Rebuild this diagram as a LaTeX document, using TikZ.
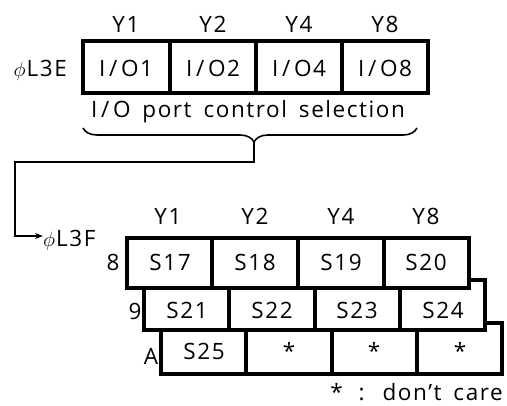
\documentclass[tikz,border=0pt]{standalone}
\usepackage{fontspec}
\setmainfont[LetterSpace=7,WordSpace=1.6]{Open Sans}
\usetikzlibrary{decorations.pathreplacing,arrows.meta}
\begin{document}
\begin{tikzpicture}[x=1pt,y=-1pt,
  lbl/.style={anchor=base,inner sep=0pt,font=\fontsize{22.5}{26}\selectfont},
  outer/.style={line width=4pt,fill=white},
  grid/.style={line width=3.4pt,fill=white},
  divider/.style={line width=3.2pt},
  thin/.style={line width=1.6pt}]
\useasboundingbox (0,0) rectangle (507,406);
% ---------- top register ----------
\draw[outer] (83,41) rectangle (428,93);
\foreach \x in {170,256,342} \draw[divider] (\x,41) -- (\x,93);
\node[lbl] (ty1) at (126,33) {Y1};
\node[lbl] (ty2) at (213,33) {Y2};
\node[lbl] (ty4) at (299,33) {Y4};
\node[lbl] (ty8) at (385,33) {Y8};
\node[lbl] (io1) at (126,77) {I\,/\,O1};
\node[lbl] (io2) at (213,77) {I\,/\,O2};
\node[lbl] (io4) at (299,77) {I\,/\,O4};
\node[lbl] (io8) at (385,77) {I\,/\,O8};
\node[lbl,anchor=base east] (l3e) at (67,77) {$\phi$\kern1ptL3E};
\node[lbl] (cap) at (248,118) {I\,/\,O port control selection};
\draw[thin,decorate,decoration={brace,amplitude=14pt,mirror,aspect=0.512}] (83,128) -- (417,128);
\coordinate (bt) at (254,142);
\coordinate (c1) at (15,162);
\coordinate (tgt) at (43,236);
\draw[thin,-{Stealth[length=8pt,width=6pt]}] (bt) |- (c1) |- (tgt);
\node[lbl,anchor=base west] (l3f) at (43,247) {$\phi$\kern1ptL3F};
% ---------- lower table ----------
% row A
\draw[grid] (161,323) rectangle (502,374);
\foreach \x in {246,332,417} \draw[divider] (\x,323) -- (\x,374);
% row 9
\draw[grid] (144,280) rectangle (485,330);
\foreach \x in {229,315,400} \draw[divider] (\x,280) -- (\x,330);
% row 8
\draw[grid] (127,238) rectangle (469,288);
\foreach \x in {212,298,384} \draw[divider] (\x,238) -- (\x,288);
\node[lbl] (by1) at (168,225) {Y1};
\node[lbl] (by2) at (255,225) {Y2};
\node[lbl] (by4) at (341,225) {Y4};
\node[lbl] (by8) at (426,225) {Y8};
\node[lbl] (r8) at (113,271) {8};
\node[lbl] (r9) at (135,320) {9};
\node[lbl] (rA) at (151,365) {A};
\node[lbl] (s17) at (170,271) {S17};
\node[lbl] (s18) at (255,271) {S18};
\node[lbl] (s19) at (341,271) {S19};
\node[lbl] (s20) at (426,271) {S20};
\node[lbl] (s21) at (187,319) {S21};
\node[lbl] (s22) at (272,319) {S22};
\node[lbl] (s23) at (357,319) {S23};
\node[lbl] (s24) at (443,319) {S24};
\node[lbl] (s25) at (204,360) {S25};
\node[lbl] (x1) at (289,360) {*};
\node[lbl] (x2) at (374,360) {*};
\node[lbl] (x3) at (460,360) {*};
\node[lbl,anchor=base east] (dc) at (503,401) {*\, :\, don’t care};
\end{tikzpicture}
\end{document}
